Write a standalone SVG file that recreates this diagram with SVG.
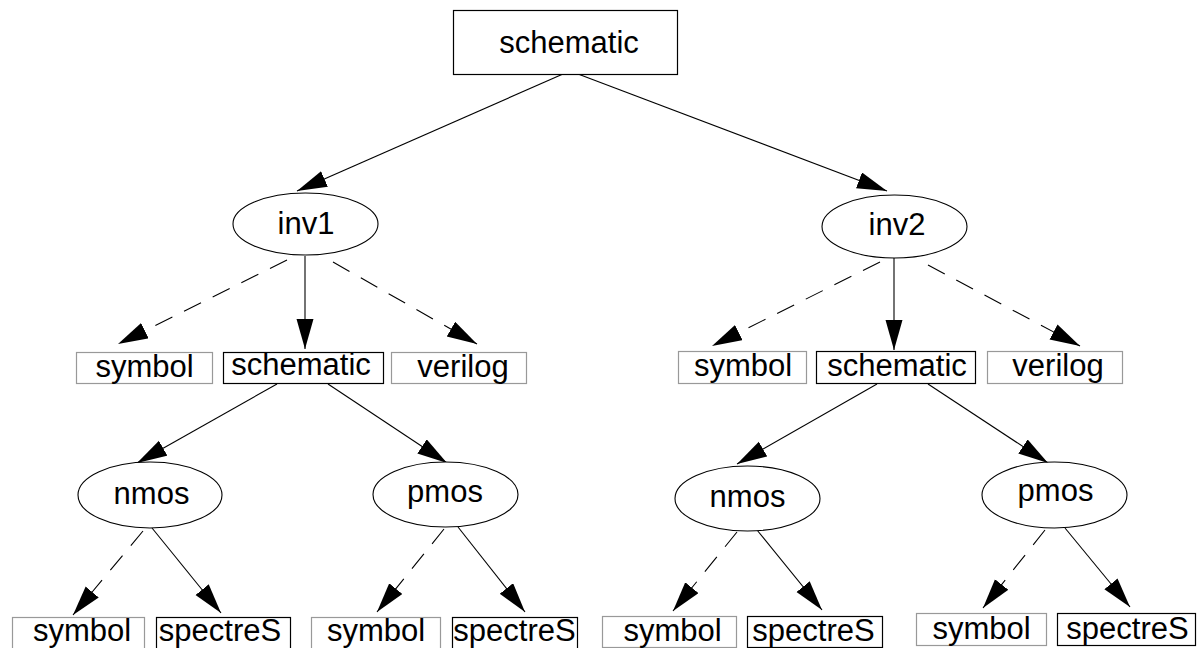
<svg xmlns="http://www.w3.org/2000/svg" width="1197" height="648" viewBox="0 0 1197 648">
  <style>
    text { font-family: "Liberation Sans", Arial, sans-serif; font-size: 31px; fill: #000; text-anchor: middle; }
    .view { fill: #fff; stroke: #000; stroke-width: 1.2; }
    .alt { fill: #fff; stroke: #999; stroke-width: 1.2; }
    .cell { fill: #fff; stroke: #000; stroke-width: 1.1; }
    .edge { fill: none; stroke: #000; stroke-width: 1.1; marker-end: url(#head); }
    .dash { stroke-dasharray: 19 13; }
  </style>
  <defs>
    <marker id="head" markerUnits="userSpaceOnUse" markerWidth="31" markerHeight="18" refX="30" refY="8.5" orient="auto">
      <path d="M0,0 L30,8.5 L0,17 z" fill="#000"/>
    </marker>
  </defs>

  <!-- hierarchy connectors -->
  <g id="connectors">
    <line class="edge" x1="563" y1="74" x2="297" y2="191"/>
    <line class="edge" x1="578" y1="74" x2="887" y2="191"/>

    <line class="edge dash" x1="287" y1="260" x2="118" y2="344"/>
    <line class="edge" x1="305" y1="256" x2="305" y2="349"/>
    <line class="edge dash" x1="333" y1="262" x2="477" y2="344"/>

    <line class="edge dash" x1="880" y1="262" x2="712" y2="346"/>
    <line class="edge" x1="894" y1="258" x2="894" y2="350"/>
    <line class="edge dash" x1="928" y1="265" x2="1080" y2="346"/>

    <line class="edge" x1="277" y1="384" x2="137" y2="463"/>
    <line class="edge" x1="328" y1="384" x2="447" y2="463"/>
    <line class="edge" x1="877" y1="384" x2="737" y2="464"/>
    <line class="edge" x1="928" y1="384" x2="1048" y2="463"/>

    <line class="edge dash" x1="143" y1="531" x2="73" y2="615"/>
    <line class="edge" x1="152" y1="528" x2="221" y2="613"/>
    <line class="edge dash" x1="444" y1="529" x2="377" y2="612"/>
    <line class="edge" x1="458" y1="527" x2="525" y2="612"/>
    <line class="edge dash" x1="737" y1="532" x2="673" y2="611"/>
    <line class="edge" x1="757" y1="530" x2="822" y2="610"/>
    <line class="edge dash" x1="1045" y1="530" x2="983" y2="608"/>
    <line class="edge" x1="1065" y1="528" x2="1130" y2="607"/>
  </g>

  <!-- top cell -->
  <g id="top-schematic">
    <rect class="view" x="453.5" y="10.5" width="224" height="64"/>
    <text x="569" y="53">schematic</text>
  </g>

  <!-- inv1 branch -->
  <g id="inv1">
    <ellipse class="cell" cx="305.5" cy="224" rx="72.5" ry="31"/>
    <text x="306" y="234">inv1</text>
  </g>
  <g id="inv1-symbol">
    <rect class="alt" x="76.5" y="352.5" width="136" height="31"/>
    <text x="144.5" y="377">symbol</text>
  </g>
  <g id="inv1-schematic">
    <rect class="view" x="223.5" y="352.5" width="160" height="31"/>
    <text x="301" y="375">schematic</text>
  </g>
  <g id="inv1-verilog">
    <rect class="alt" x="391.5" y="352.5" width="135" height="31"/>
    <text x="463" y="377">verilog</text>
  </g>
  <g id="inv1-nmos">
    <ellipse class="cell" cx="150" cy="495" rx="72" ry="33"/>
    <text x="151.5" y="504">nmos</text>
  </g>
  <g id="inv1-pmos">
    <ellipse class="cell" cx="445.5" cy="494.5" rx="72.5" ry="32.5"/>
    <text x="445" y="502">pmos</text>
  </g>
  <g id="inv1-nmos-symbol">
    <rect class="alt" x="12.5" y="617.5" width="132" height="32"/>
    <text x="82" y="641">symbol</text>
  </g>
  <g id="inv1-nmos-spectreS">
    <rect class="view" x="156.5" y="617.5" width="134" height="32"/>
    <text x="220" y="641">spectreS</text>
  </g>
  <g id="inv1-pmos-symbol">
    <rect class="alt" x="311.5" y="617.5" width="129" height="32"/>
    <text x="376" y="641">symbol</text>
  </g>
  <g id="inv1-pmos-spectreS">
    <rect class="view" x="452.5" y="617.5" width="125" height="32"/>
    <text x="514.5" y="641">spectreS</text>
  </g>

  <!-- inv2 branch -->
  <g id="inv2">
    <ellipse class="cell" cx="894.5" cy="226.5" rx="72.5" ry="31.5"/>
    <text x="897" y="235">inv2</text>
  </g>
  <g id="inv2-symbol">
    <rect class="alt" x="678.5" y="351.5" width="128" height="32"/>
    <text x="743" y="376">symbol</text>
  </g>
  <g id="inv2-schematic">
    <rect class="view" x="816.5" y="351.5" width="159" height="32"/>
    <text x="897" y="376">schematic</text>
  </g>
  <g id="inv2-verilog">
    <rect class="alt" x="987.5" y="351.5" width="135" height="32"/>
    <text x="1058" y="376">verilog</text>
  </g>
  <g id="inv2-nmos">
    <ellipse class="cell" cx="747.5" cy="498.5" rx="72.5" ry="32.5"/>
    <text x="747.5" y="507">nmos</text>
  </g>
  <g id="inv2-pmos">
    <ellipse class="cell" cx="1054.5" cy="495" rx="72.5" ry="33"/>
    <text x="1055.5" y="501">pmos</text>
  </g>
  <g id="inv2-nmos-symbol">
    <rect class="alt" x="602.5" y="616.5" width="134" height="31"/>
    <text x="672.5" y="641">symbol</text>
  </g>
  <g id="inv2-nmos-spectreS">
    <rect class="view" x="747.5" y="616.5" width="135" height="31"/>
    <text x="813.5" y="641">spectreS</text>
  </g>
  <g id="inv2-pmos-symbol">
    <rect class="alt" x="916.5" y="613.5" width="130" height="32"/>
    <text x="981.5" y="639">symbol</text>
  </g>
  <g id="inv2-pmos-spectreS">
    <rect class="view" x="1057.5" y="613.5" width="138" height="32"/>
    <text x="1127.5" y="639">spectreS</text>
  </g>
</svg>
